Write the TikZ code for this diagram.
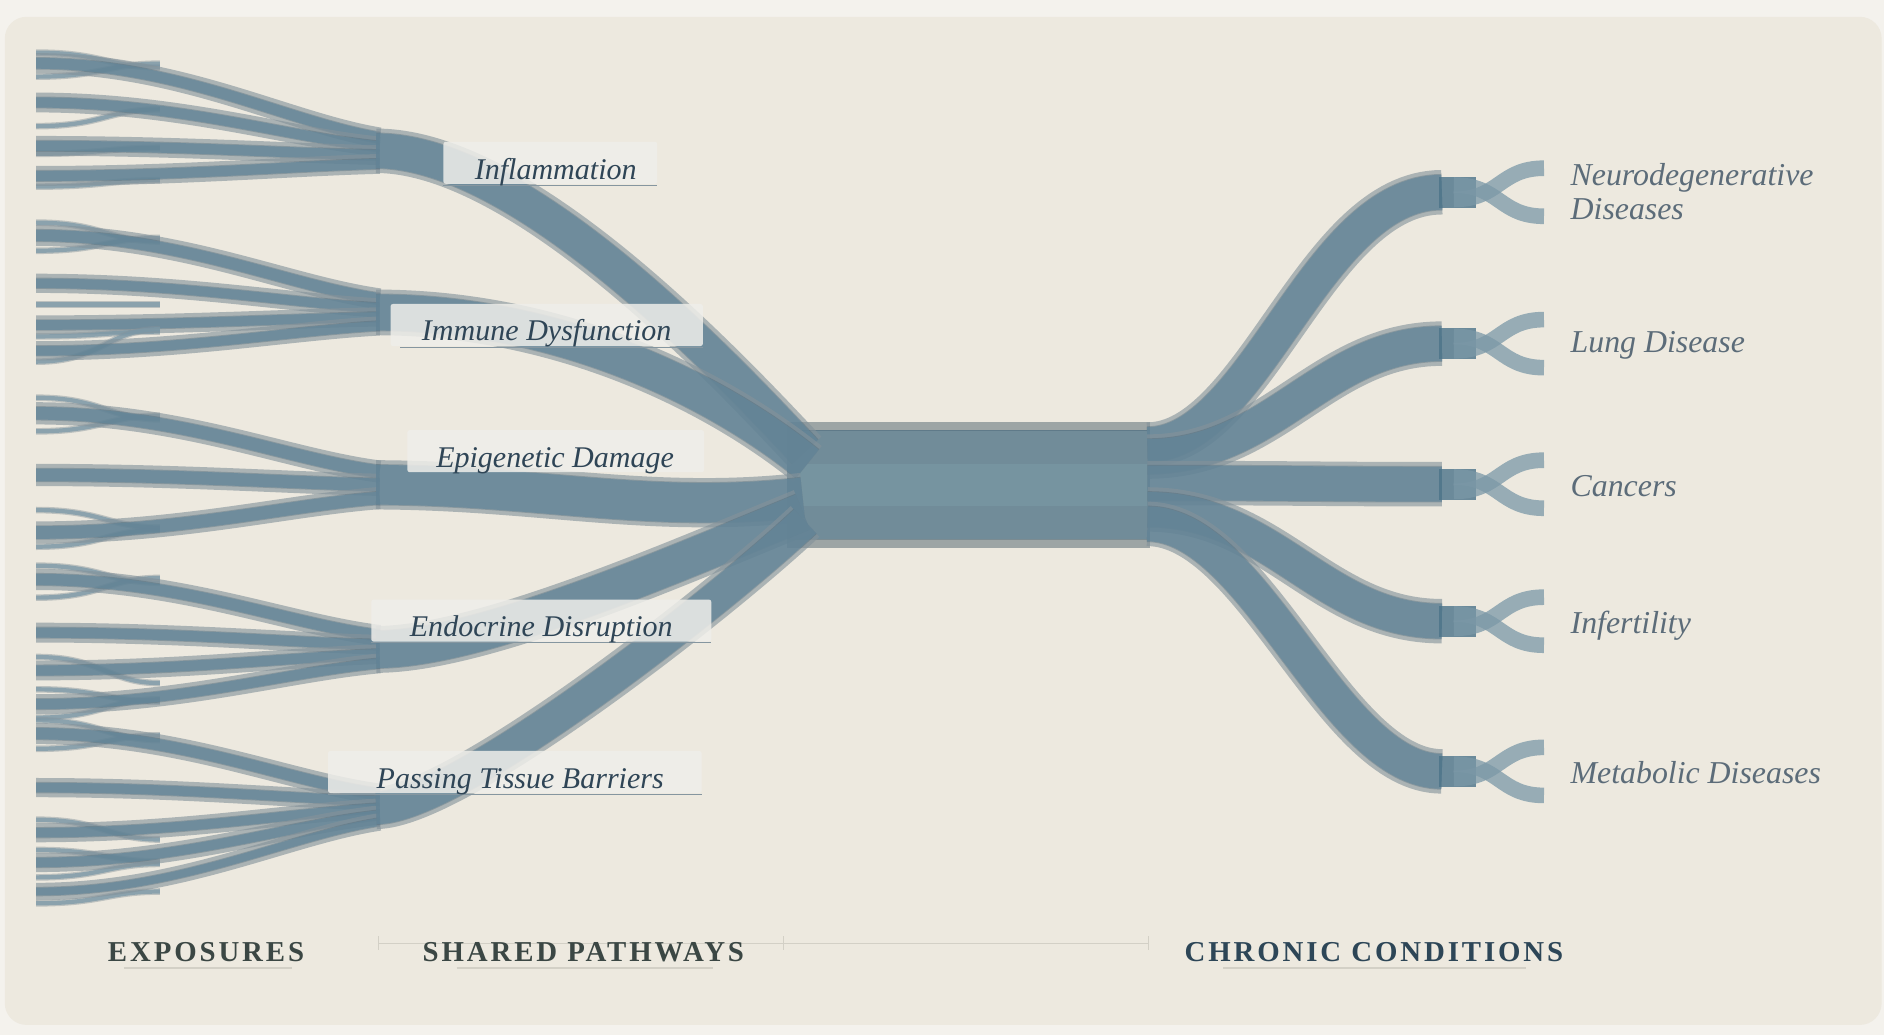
\documentclass[tikz,border=0pt]{standalone}
\usepackage{fontspec}
\setmainfont{Liberation Serif}
\newfontfamily\axisfont[LetterSpace=10]{Liberation Serif}
\definecolor{outerbg}{HTML}{F4F2ED}
\definecolor{panel}{HTML}{EDE9DF}
\definecolor{halocol}{HTML}{84929A}
\definecolor{edgecol}{HTML}{3E5B6C}
\definecolor{ribcol}{HTML}{62879C}
\definecolor{thincol}{HTML}{7B98A7}
\definecolor{centercol}{HTML}{718C99}
\definecolor{stripecol}{HTML}{7896A2}
\definecolor{centerhalo}{HTML}{9DA5A5}
\definecolor{sqcol}{HTML}{4B7389}
\definecolor{pathtext}{HTML}{2F4556}
\definecolor{condtext}{HTML}{5C6C79}
\definecolor{axisdark}{HTML}{3B4744}
\definecolor{axisblue}{HTML}{2D4657}
\definecolor{boxcol}{HTML}{EFEEEA}
\definecolor{ulcol}{HTML}{8596A0}
\definecolor{axisline}{HTML}{D3D0C6}
\tikzset{
  halo/.style={draw=halocol, draw opacity=0.62, line cap=butt},
  ribedge/.style={draw=edgecol, draw opacity=0.3, line cap=butt},
  ribfill/.style={draw=ribcol, draw opacity=0.66, line cap=butt},
  thinhalo/.style={draw=halocol, draw opacity=0.45, line cap=butt},
  thinfill/.style={draw=thincol, draw opacity=0.75, line cap=butt},
  pathlabel/.style={font=\fontsize{25}{30}\selectfont\itshape, text=pathtext, inner sep=0pt, anchor=base},
  condlabel/.style={font=\fontsize{26.5}{27.5}\selectfont\itshape, text=condtext, inner sep=0pt, anchor=base west},
  axislabel/.style={font=\axisfont\fontsize{24}{28}\selectfont\bfseries, inner sep=0pt, anchor=base},
  labbox/.style={fill=boxcol, fill opacity=0.85, rounded corners=2pt},
  underl/.style={draw=ulcol, line width=0.8pt},
  axisrule/.style={draw=axisline, line width=1pt},
  axisunder/.style={draw=axisline, line width=1.5pt},
  condsq/.style={fill=sqcol, fill opacity=0.8},
}
\newcommand\rib[2]{\pgfmathsetmacro\hw{#1+8}\pgfmathsetmacro\ew{#1+1.4}%
  \draw[halo,line width=\hw pt] #2;\draw[ribedge,line width=\ew pt] #2;\draw[ribfill,line width=#1pt] #2;}
\newcommand\expo[3]{\rib{#3}{(30,#1) .. controls (150,#1) and (240,{#2+0.2*(#1-#2)}) .. (316,#2)}}
\newcommand\thinl[2]{\draw[thinhalo,line width=5.5pt] (30,#1) .. controls (85,#1) and (90,#2) .. (133,#2);\draw[thinfill,line width=3.5pt] (30,#1) .. controls (85,#1) and (90,#2) .. (133,#2);}
\newcommand\thinr[1]{%
  \draw[thinfill,line width=13pt] (1210,{#1+6}) .. controls (1248,{#1+6}) and (1248,{#1-20}) .. (1285,{#1-20});
  \draw[thinfill,line width=13pt] (1210,{#1-6}) .. controls (1248,{#1-6}) and (1248,{#1+20}) .. (1285,{#1+20});}
\begin{document}
\begin{tikzpicture}[x=1pt,y=-1pt]
\useasboundingbox (0,0) rectangle (1568,861);
\fill[outerbg] (0,0) rectangle (1568,861);
\fill[panel, rounded corners=18pt] (4,14) rectangle (1566,853);

% ---------- exposures, group 1 (Inflammation) ----------
\thinl{43.8}{56}
\thinl{63.8}{53}
\expo{52.7}{114.6}{9}
\thinl{105}{91}
\expo{85.3}{121.9}{8.5}
\thinl{128}{123}
\expo{121.4}{129.1}{8.5}
\thinl{155.3}{150}
\expo{146.4}{136.4}{8.5}
% ---------- group 2 (Immune) ----------
\thinl{185.3}{201}
\thinl{208.7}{198}
\expo{196}{248.75}{9.5}
\expo{235.8}{256.25}{8}
\thinl{253.5}{253.5}
\expo{270.5}{263.75}{8}
\thinl{280}{276}
\thinl{301}{274}
\expo{292}{271.25}{8}
% ---------- group 3 (Epigenetic) ----------
\thinl{331}{349}
\thinl{359}{346}
\expo{344}{392.5}{10.5}
\expo{395.3}{403.5}{10.5}
\thinl{424.5}{439}
\thinl{455}{441}
\expo{443.2}{414.5}{10.5}
% ---------- group 4 (Endocrine) ----------
\thinl{470.8}{485}
\thinl{497.4}{481}
\expo{482.3}{528.9}{9.5}
\expo{526.5}{536.6}{8.5}
\thinl{546.8}{568.5}
\expo{558}{544.4}{8.5}
\thinl{573.7}{584}
\thinl{597.3}{582}
\expo{586}{552.1}{8.5}
% ---------- group 5 (Passing Tissue Barriers) ----------
\thinl{599.5}{616}
\thinl{623.2}{612}
\expo{610.6}{660.9}{9.5}
\expo{655.5}{666.7}{8}
\thinl{682.2}{698.7}
\expo{693}{672.5}{8}
\thinl{707.4}{717}
\thinl{730.2}{719}
\expo{717.8}{678.3}{8}
\thinl{751.8}{742}
\expo{742}{684.1}{6.5}

% ---------- central band ----------
\fill[centerhalo] (655,351) rectangle (957,456);
\fill[centercol] (655,358) rectangle (957,449);
\fill[stripecol, opacity=0.8] (655,386) rectangle (957,421);
\draw[edgecol, opacity=0.35, line width=0.8pt] (655,358) -- (957,358) (655,449) -- (957,449);

% ---------- shared pathways ----------
\rib{29}{(313,125.5) .. controls (430,125.5) and (590,290) .. (670,376)}
\rib{30}{(313,260) .. controls (460,260) and (590,320) .. (672,386)}
\rib{33}{(313,403.5) .. controls (450,404) and (540,428) .. (668,414)}
\rib{31}{(313,540.5) .. controls (400,540.5) and (560,470) .. (668,426)}
\rib{27}{(313,672.5) .. controls (380,672.5) and (600,500) .. (670,434)}

% ---------- to chronic conditions ----------
\rib{29}{(955,370) .. controls (1045,370) and (1095,160) .. (1200,160)}
\rib{29}{(955,380) .. controls (1060,380) and (1100,286) .. (1200,286)}
\rib{29}{(955,402) .. controls (1080,402) and (1100,403) .. (1200,403)}
\rib{29}{(955,424) .. controls (1060,424) and (1100,517) .. (1200,517)}
\rib{29}{(955,436) .. controls (1045,436) and (1110,642) .. (1200,642)}

\fill[condsq] (1198,147) rectangle (1228,173);
\fill[condsq] (1198,273) rectangle (1228,299);
\fill[condsq] (1198,390) rectangle (1228,416);
\fill[condsq] (1198,504) rectangle (1228,530);
\fill[condsq] (1198,629) rectangle (1228,655);
\thinr{160}
\thinr{286}
\thinr{403}
\thinr{517}
\thinr{642}

% ---------- pathway labels ----------
\fill[labbox] (369,118) rectangle (547,153);
\draw[underl] (369,154) -- (547,154);
\node[pathlabel] (infl) at (462.5,149) {Inflammation};
\fill[labbox] (325,253) rectangle (585,288);
\draw[underl] (333,289) -- (585,289);
\node[pathlabel] (immu) at (455,283.5) {Immune Dysfunction};
\fill[labbox] (339,358) rectangle (586,393);
\node[pathlabel] (epig) at (462,389) {Epigenetic Damage};
\fill[labbox] (309,499) rectangle (592,534);
\draw[underl] (309,535) -- (592,535);
\node[pathlabel] (endo) at (450.5,530) {Endocrine Disruption};
\fill[labbox] (273,625) rectangle (584,660);
\draw[underl] (273,661) -- (584,661);
\node[pathlabel] (pass) at (433,656) {Passing Tissue Barriers};

% ---------- condition labels ----------
\node[condlabel] (neuro) at (1307,154.8) {\begin{tabular}[t]{@{}l@{}}Neurodegenerative\\Diseases\end{tabular}};
\node[condlabel] (lung) at (1307,293) {Lung Disease};
\node[condlabel] (canc) at (1307,413) {Cancers};
\node[condlabel] (infe) at (1307,527) {Infertility};
\node[condlabel] (meta) at (1307,652) {Metabolic Diseases};

% ---------- axis ----------
\draw[axisrule] (315,785) -- (956,785);
\draw[axisrule] (315,779) -- (315,791);
\draw[axisrule] (652,779) -- (652,791);
\draw[axisrule] (956,779) -- (956,791);
\node[axislabel, text=axisdark] (expo) at (171.5,800) {EXPOSURES};
\node[axislabel, text=axisdark] (shared) at (485.5,800) {SHARED PATHWAYS};
\node[axislabel, text=axisblue] (chronic) at (1143.5,800) {CHRONIC CONDITIONS};
\draw[axisunder] (103,805.5) -- (243,805.5);
\draw[axisunder] (380,805.5) -- (593,805.5);
\draw[axisunder] (1018,805.5) -- (1270,805.5);
\end{tikzpicture}
\end{document}
